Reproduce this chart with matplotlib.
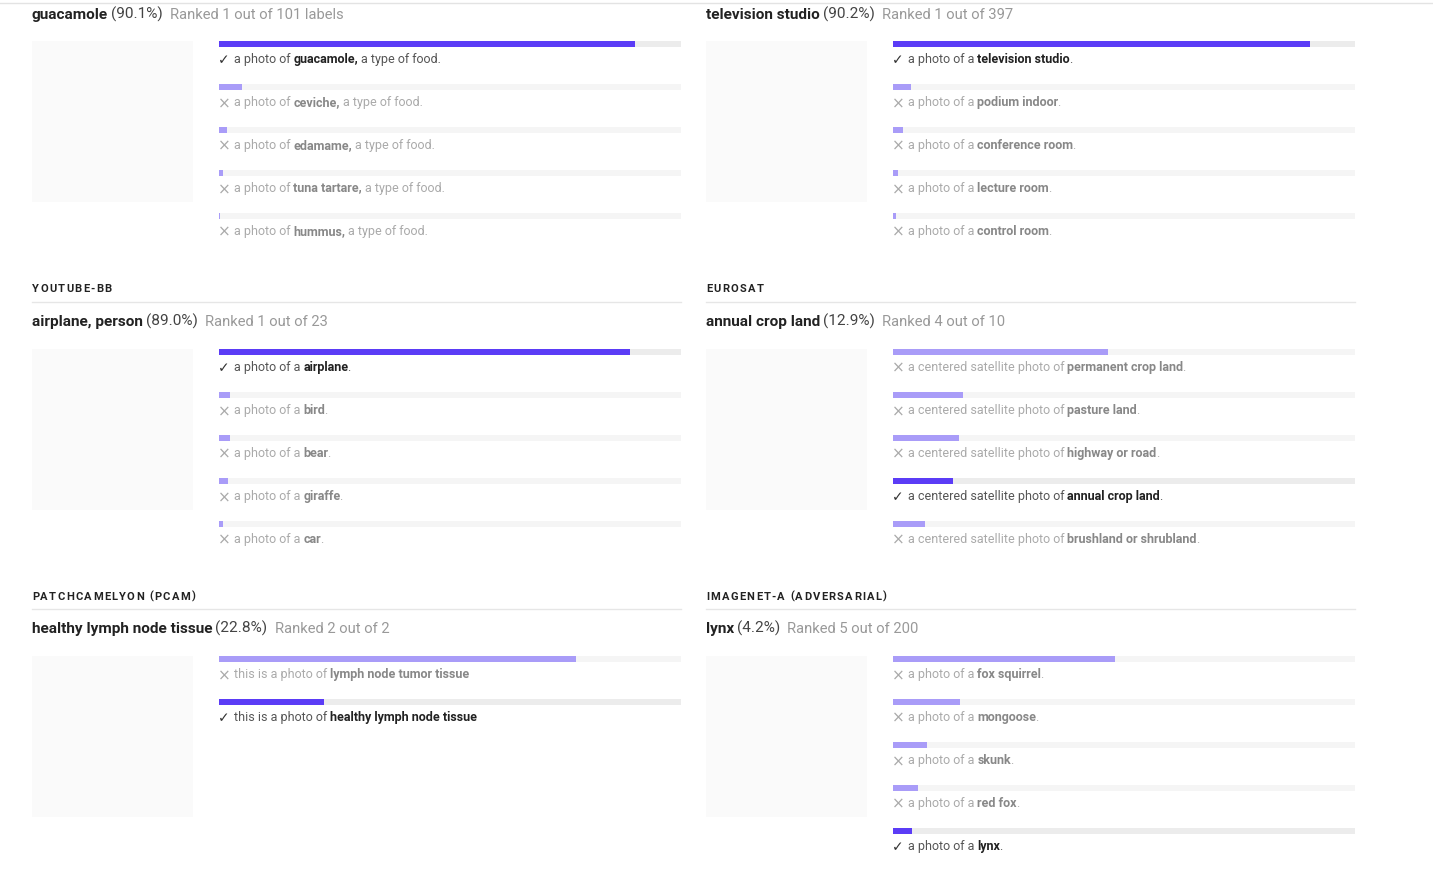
import matplotlib
matplotlib.use("Agg")
import matplotlib.pyplot as plt

plt.rcParams["font.family"] = ["Roboto", "DejaVu Sans"]

# ---- data ----
food_classes = ["guacamole", "ceviche", "edamame", "tuna tartare", "hummus"]
food_probs = [90.1, 4.9, 1.7, 0.8, 0.3]

studio_classes = ["television studio", "podium indoor", "conference room", "lecture room", "control room"]
studio_probs = [90.2, 3.8, 2.1, 1.1, 0.6]

ytbb_classes = ["airplane", "bird", "bear", "giraffe", "car"]
ytbb_probs = [89.0, 2.4, 2.3, 2.0, 0.8]

eurosat_classes = ["permanent crop land", "pasture land", "highway or road", "annual crop land", "brushland or shrubland"]
eurosat_probs = [46.5, 15.1, 14.3, 12.9, 6.9]

pcam_classes = ["lymph node tumor tissue", "healthy lymph node tissue"]
pcam_probs = [77.2, 22.8]

imneta_classes = ["fox squirrel", "mongoose", "skunk", "red fox", "lynx"]
imneta_probs = [48.0, 14.4, 7.3, 5.4, 4.2]

headers = [None, None, "YOUTUBE-BB", "EUROSAT", "PATCHCAMELYON (PCAM)", "IMAGENET-A (ADVERSARIAL)"]
true_labels = ["guacamole", "television studio", "airplane, person", "annual crop land", "healthy lymph node tissue", "lynx"]
true_probs = [90.1, 90.2, 89.0, 12.9, 22.8, 4.2]
ranks = ["Ranked 1 out of 101 labels", "Ranked 1 out of 397", "Ranked 1 out of 23",
         "Ranked 4 out of 10", "Ranked 2 out of 2", "Ranked 5 out of 200"]
correct_idx = [0, 0, 0, 3, 1, 4]
prefixes = ["a photo of", "a photo of a", "a photo of a", "a centered satellite photo of",
            "this is a photo of", "a photo of a"]
name_ends = [",", "", "", "", "", ""]
suffixes = ["a type of food.", ".", ".", ".", "", "."]

classes = [food_classes, studio_classes, ytbb_classes, eurosat_classes, pcam_classes, imneta_classes]
probs = [food_probs, studio_probs, ytbb_probs, eurosat_probs, pcam_probs, imneta_probs]

# ---- layout (pixels, y measured down from top) ----
W, H = 1433, 892
col_x = [32, 706, 32, 706, 32, 706]
title_base = [19, 19, 326, 326, 633, 633]
header_base = [None, None, 292, 292, 600, 600]
line_y = [None, None, 302, 302, 609, 609]
bars_top = [41, 41, 349, 349, 656, 656]
row_h = 43
bar_h = 6
box_w = 161
bar_off = 187
bar_w = 462

DARK = "#5b3cf6"
LIGHT = "#a99cf8"

fig = plt.figure(figsize=(W / 100, H / 100), dpi=100)
ax = fig.add_axes([0, 0, 1, 1])
ax.set_xlim(0, W)
ax.set_ylim(H, 0)
ax.axis("off")
renderer = fig.canvas.get_renderer()

ax.plot([0, W], [3, 3], color="#e3e3e3", lw=1)


def text_w(s, size, weight):
    t = ax.text(0, 0, s, fontsize=size, fontweight=weight)
    w = t.get_window_extent(renderer).width
    t.remove()
    return w


def runs(x, y, parts, size):
    for s, weight, color, gap, *sz in parts:
        fs = sz[0] if sz else size
        t = ax.text(x, y, s, fontsize=fs, fontweight=weight, color=color, va="baseline", ha="left")
        x += t.get_window_extent(renderer).width + gap
    return x


def spaced(x, y, s, size, weight, color, track):
    # letter-spaced text: each glyph placed where it sits in the whole string, plus tracking
    for k, ch in enumerate(s):
        if ch == " ":
            continue
        start = text_w(s[:k + 1], size, weight) - text_w(ch, size, weight)
        ax.text(x + start + k * track, y, ch, fontsize=size, fontweight=weight, color=color,
                va="baseline", ha="left")


for p in range(6):
    x0 = col_x[p]
    if headers[p]:
        spaced(x0, header_base[p], headers[p], 8.0, "bold", "#222222", 1.3)
        ax.plot([x0, x0 + bar_off + bar_w], [line_y[p], line_y[p]], color="#e6e6e6", lw=1)
    runs(x0, title_base[p], [(true_labels[p], "bold", "#222222", 3),
                             ("(%.1f%%)" % true_probs[p], "normal", "#444444", 7),
                             (ranks[p], "normal", "#999999", 0, 10.6)], 11.1)

    # image placeholder
    ax.add_patch(plt.Rectangle((x0, bars_top[p]), box_w, box_w, color="#fafafa", lw=0))

    n = len(classes[p])
    bx = fig.add_axes([(x0 + bar_off) / W, 1 - (bars_top[p] + n * row_h) / H,
                       bar_w / W, n * row_h / H])
    bx.set_xlim(0, 100)
    bx.set_ylim(n, 0)
    bx.axis("off")
    rows = list(range(n))
    track = ["#ececec" if i == correct_idx[p] else "#f5f5f5" for i in rows]
    colors = [DARK if i == correct_idx[p] else LIGHT for i in rows]
    bx.barh(rows, [100] * n, height=bar_h / row_h, align="edge", color=track)
    bx.barh(rows, probs[p], height=bar_h / row_h, align="edge", color=colors)

    for i, name in enumerate(classes[p]):
        ly = bars_top[p] + i * row_h + 22
        ok = i == correct_idx[p]
        mx = x0 + bar_off
        if ok:
            ax.text(mx - 1.5, ly + 1, "\u2713", fontsize=10, color="#333333", va="baseline", ha="left",
                    family="DejaVu Sans")
            c1, c2 = "#555555", "#222222"
        else:
            ax.text(mx - 1.5, ly + 2, "\u00d7", fontsize=11, color="#aaaaaa", va="baseline", ha="left",
                    family="DejaVu Sans")
            c1, c2 = "#aaaaaa", "#888888"
        parts = [(prefixes[p], "normal", c1, 3),
                 (name + name_ends[p], "bold", c2, 3 if name_ends[p] else -1)]
        if suffixes[p]:
            parts.append((suffixes[p], "normal", c1, 0))
        runs(mx + 15, ly, parts, 9.0)

fig.savefig("out.png", dpi=100)
